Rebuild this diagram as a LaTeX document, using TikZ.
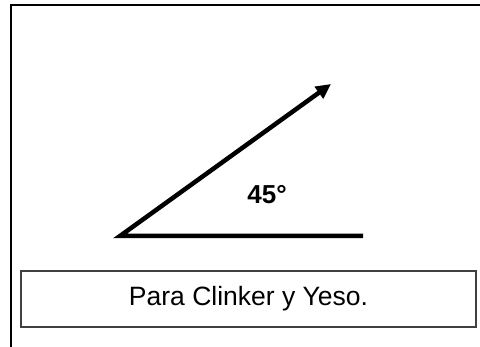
\documentclass[tikz,border=0pt]{standalone}
\usepackage{fontspec}
\setmainfont{Liberation Sans}
\usetikzlibrary{arrows.meta}
\definecolor{rahmen}{rgb}{0.25,0.25,0.25}

\begin{document}
\begin{tikzpicture}[x=1pt, y=-1pt,
  schenkel/.style={line width=4.5pt, line join=miter},
  textbox/.style={draw=rahmen, line width=1.6pt, minimum width=455pt, minimum height=56pt, inner sep=0pt, font=\fontsize{26.5}{30}\selectfont}]
\useasboundingbox (0,0) rectangle (480,347);
% outer frame (only top and left edge visible)
\draw[line width=2.4pt] (11,347) -- (11,5) -- (480,5);
% angle
\coordinate (vertex) at (120,236);
\coordinate (tip) at (331,84);
\coordinate (base) at (363,236);
\draw[schenkel, {Triangle[length=15pt,width=14pt]}-] (tip) -- (vertex) -- (base);
\node[font=\bfseries\fontsize{26}{30}\selectfont] (winkel) at (267,195) {45°};
%caption
\node[textbox] (caption) at (248.5,299) {Para Clinker y Yeso.};
\end{tikzpicture}
\end{document}
